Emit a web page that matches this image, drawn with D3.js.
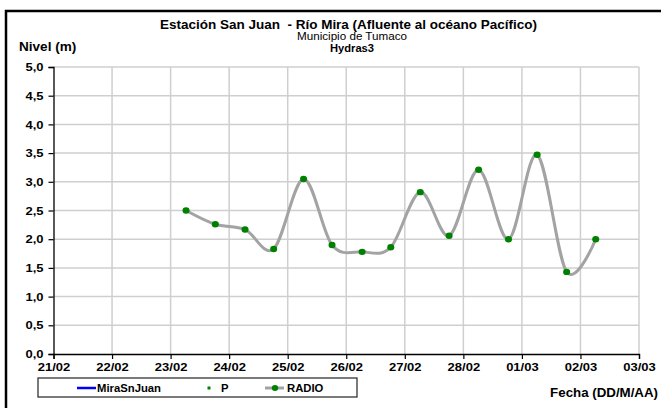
<!DOCTYPE html>
<html>
<head>
<meta charset="utf-8">
<script src="https://cdn.jsdelivr.net/npm/d3@7"></script>
<style>
  html, body { margin: 0; padding: 0; background: #fff; }
  svg { display: block; font-family: "Liberation Sans", Arial, sans-serif; }
</style>
</head>
<body>
<svg id="chart" width="661" height="408"></svg>
<script>
// ---- data ----
const titleMain = "Estación San Juan  - Río Mira (Afluente al océano Pacífico)";
const titleSub = "Municipio de Tumaco";
const titleStation = "Hydras3";
const yLabel = "Nivel (m)";
const xLabel = "Fecha (DD/M/AA)";
const seriesNames = ["MiraSnJuan", "P", "RADIO"];
const radioTimes = [
  "2015-02-23 06:20", "2015-02-23 18:20", "2015-02-24 06:30", "2015-02-24 18:15",
  "2015-02-25 06:30", "2015-02-25 18:10", "2015-02-26 06:30", "2015-02-26 18:15",
  "2015-02-27 06:20", "2015-02-27 18:10", "2015-02-28 06:15", "2015-02-28 18:30",
  "2015-03-01 06:15", "2015-03-01 18:20", "2015-03-02 06:15"
];
const radioValues = [2.50, 2.26, 2.17, 1.83, 3.05, 1.90, 1.78, 1.86, 2.82, 2.06, 3.21, 2.00, 3.47, 1.43, 2.00];
const xDomain = ["2015-02-21 00:00", "2015-03-03 00:00"];
const yTicks = [0, 0.5, 1, 1.5, 2, 2.5, 3, 3.5, 4, 4.5, 5];

// ---- setup ----
const parse = d3.timeParse("%Y-%m-%d %H:%M");
const svg = d3.select("#chart");
const pLeft = 53.5, pRight = 639, pTop = 67, pBottom = 354;
const x = d3.scaleTime().domain(xDomain.map(parse)).range([pLeft, pRight]);
const y = d3.scaleLinear().domain([0, 5]).range([pBottom, pTop]);
const SX = 1.13;

// outer frame
svg.append("rect").attr("x", 6).attr("y", 11).attr("width", 700).attr("height", 420)
  .attr("fill", "none").attr("stroke", "#000").attr("stroke-width", 2.5);

// gridlines
const xTicks = d3.timeDay.range(parse(xDomain[0]), d3.timeDay.offset(parse(xDomain[1]), 1));
svg.append("g").selectAll("line").data(yTicks.filter(d => d > 0)).join("line")
  .attr("x1", pLeft).attr("x2", pRight).attr("y1", d => y(d)).attr("y2", d => y(d))
  .attr("stroke", "#cfcfcf").attr("stroke-width", 1.5);
svg.append("g").selectAll("line").data(xTicks.slice(1)).join("line")
  .attr("x1", d => x(d)).attr("x2", d => x(d)).attr("y1", pTop).attr("y2", pBottom)
  .attr("stroke", "#cfcfcf").attr("stroke-width", 1.5);

// axes
const yAxis = svg.append("g").attr("transform", `translate(${pLeft},0)`)
  .call(d3.axisLeft(y).tickValues(yTicks).tickSize(5).tickPadding(8)
    .tickFormat(d => d3.format(".1f")(d).replace(".", ",")));
const xAxis = svg.append("g").attr("transform", `translate(0,${pBottom})`)
  .call(d3.axisBottom(x).tickValues(xTicks).tickSize(5).tickPadding(4)
    .tickFormat(d3.timeFormat("%d/%m")));
[yAxis, xAxis].forEach(g => {
  g.select(".domain").attr("stroke", "#000").attr("stroke-width", 1.3);
  g.selectAll(".tick line").attr("stroke", "#000").attr("stroke-width", 1.2);
  g.selectAll(".tick text").attr("font-family", "Liberation Sans, Arial, sans-serif")
    .attr("font-size", 11.5).attr("font-weight", "bold").attr("fill", "#000");
});
yAxis.selectAll(".tick text").attr("x", -10 / SX).attr("transform", `scale(${SX},1)`);
xAxis.selectAll(".tick text").attr("transform", `scale(${SX},1)`);

// series
const pts = radioTimes.map((t, i) => ({ t: parse(t), v: radioValues[i] }));
const line = d3.line().x(d => x(d.t)).y(d => y(d.v)).curve(d3.curveCardinal.tension(0));
svg.append("path").datum(pts).attr("d", line)
  .attr("fill", "none").attr("stroke", "#a3a3a3").attr("stroke-width", 3);
svg.append("g").selectAll("ellipse").data(pts).join("ellipse")
  .attr("cx", d => x(d.t)).attr("cy", d => y(d.v)).attr("rx", 3.5).attr("ry", 3.2)
  .attr("fill", "#008000");

// text helper
function txt(str, px, py, size, weight, anchor, sx, len) {
  const t = svg.append("text")
    .attr("transform", `translate(${px},${py}) scale(${sx},1)`)
    .attr("font-size", size).attr("font-weight", weight)
    .attr("text-anchor", anchor).attr("fill", "#000")
    .style("white-space", "pre").text(str);
  if (len) t.attr("textLength", len / sx).attr("lengthAdjust", "spacingAndGlyphs");
  return t;
}
txt(titleMain, 348.5, 28.5, 12, "bold", "middle", 1, 377);
txt(titleSub, 352, 40, 11, "normal", "middle", 1, 110);
txt(titleStation, 352, 52, 11.5, "bold", "middle", 1, 44);
txt(yLabel, 19, 51, 12, "bold", "start", SX);
txt(xLabel, 658, 397, 12, "bold", "end", 1.11);

// legend
svg.append("rect").attr("x", 38).attr("y", 378).attr("width", 319).attr("height", 19)
  .attr("fill", "#fff").attr("stroke", "#333").attr("stroke-width", 1.3);
svg.append("line").attr("x1", 77).attr("x2", 96).attr("y1", 388).attr("y2", 388)
  .attr("stroke", "#0000ff").attr("stroke-width", 2.5);
txt(seriesNames[0], 97, 392, 10, "bold", "start", SX);
svg.append("rect").attr("x", 207.5).attr("y", 386.5).attr("width", 3).attr("height", 3).attr("fill", "#008000");
txt(seriesNames[1], 221, 392, 10, "bold", "start", SX);
svg.append("line").attr("x1", 265).attr("x2", 284).attr("y1", 388).attr("y2", 388)
  .attr("stroke", "#a3a3a3").attr("stroke-width", 3);
svg.append("ellipse").attr("cx", 275).attr("cy", 388).attr("rx", 3.2).attr("ry", 3).attr("fill", "#008000");
txt(seriesNames[2], 287, 392, 10, "bold", "start", SX);
</script>
</body>
</html>
